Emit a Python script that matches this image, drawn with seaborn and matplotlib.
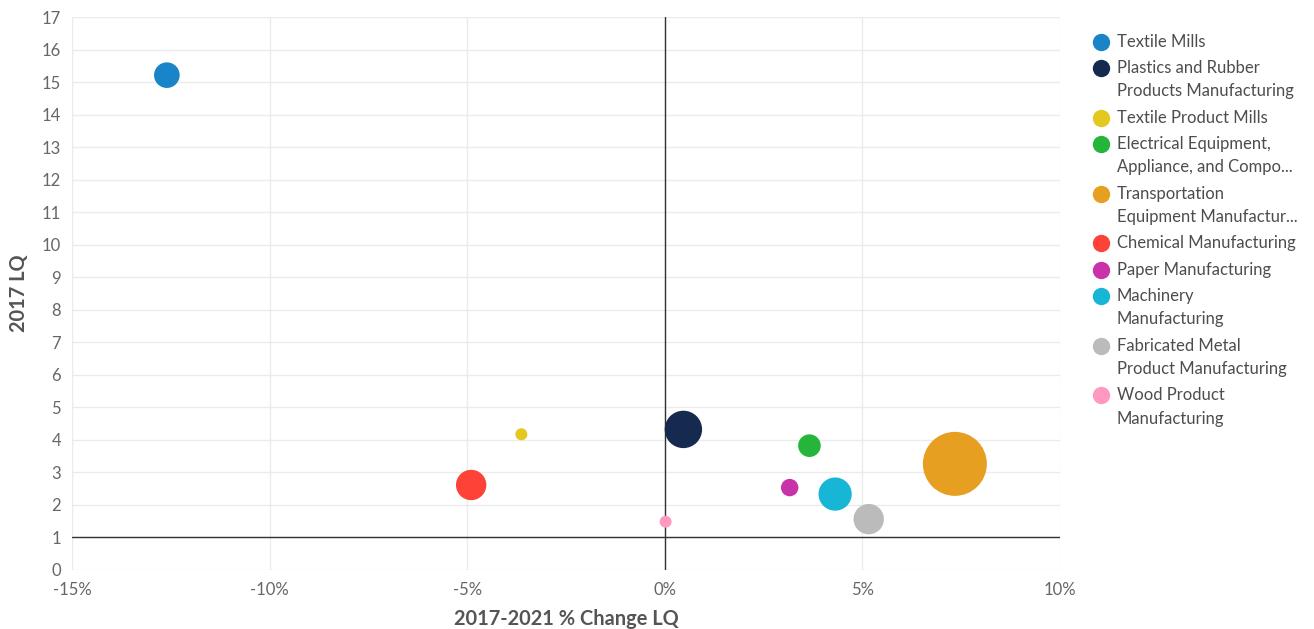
import matplotlib.pyplot as plt
import pandas as pd
import seaborn as sns
from matplotlib.lines import Line2D
from matplotlib.ticker import MultipleLocator, PercentFormatter

# Industry bubbles: % change in LQ 2017-2021 (x), 2017 LQ (y), bubble size (relative area)
industries = [
    "Textile Mills",
    "Plastics and Rubber\nProducts Manufacturing",
    "Textile Product Mills",
    "Electrical Equipment,\nAppliance, and Compo...",
    "Transportation\nEquipment Manufactur...",
    "Chemical Manufacturing",
    "Paper Manufacturing",
    "Machinery\nManufacturing",
    "Fabricated Metal\nProduct Manufacturing",
    "Wood Product\nManufacturing",
]
pct_change = [-12.6, 0.47, -3.63, 3.66, 7.34, -4.90, 3.16, 4.31, 5.16, 0.02]
lq_2017 = [15.22, 4.32, 4.17, 3.82, 3.26, 2.61, 2.53, 2.33, 1.56, 1.48]
bubble_size = [164, 350, 36, 128, 1024, 231, 76, 276, 231, 36]
colors = [
    "#1984c7", "#16294f", "#e3c81f", "#25b53a", "#e69f20",
    "#fd4338", "#c932a8", "#17b6d6", "#bbbbbb", "#ff99c2",
]

df = pd.DataFrame({
    "industry": industries,
    "pct": pct_change,
    "lq": lq_2017,
    "size": bubble_size,
})

sns.set_theme(style="white")
plt.rcParams["font.family"] = ["Lato", "DejaVu Sans"]
plt.rcParams["axes.unicode_minus"] = False

fig = plt.figure(figsize=(13.14, 6.29), dpi=100)
ax = fig.add_axes([0.0548, 0.0941, 0.7519, 0.8784])

# reference lines first so bubbles sit on top
ax.axvline(0, color="#333333", lw=1, zorder=1)
ax.axhline(1, color="#333333", lw=1, zorder=1)

smax = 2.0736 * max(bubble_size)
sns.scatterplot(
    data=df, x="pct", y="lq", hue="industry", palette=colors,
    size="size", sizes=(0, smax), size_norm=(0, max(bubble_size)),
    linewidth=0, alpha=1, legend=False, ax=ax, zorder=3,
)

ax.set_xlim(-15, 10)
ax.set_ylim(0, 17)
ax.xaxis.set_major_locator(MultipleLocator(5))
ax.yaxis.set_major_locator(MultipleLocator(1))
ax.xaxis.set_major_formatter(PercentFormatter(decimals=0))
ax.grid(True, color="#ebebeb", lw=1, zorder=0)
ax.set_axisbelow(True)
for s in ax.spines.values():
    s.set_visible(False)
ax.tick_params(axis="both", length=0, labelsize=12, colors="#666666")
ax.tick_params(axis="x", pad=9)
ax.tick_params(axis="y", pad=8)

ax.set_xlabel("2017-2021 % Change LQ", fontsize=14.4, fontweight="bold",
              color="#555555", labelpad=8)
ax.set_ylabel("2017 LQ", fontsize=14.4, fontweight="bold",
              color="#555555", labelpad=9)

# custom legend: marker aligned with the first line of each label
W, H = 1314, 629
y = 41.7
for name, c in zip(industries, colors):
    fig.add_artist(Line2D([1100.7 / W], [1 - y / H], marker="o", markersize=12.5,
                          color=c, markeredgewidth=0, transform=fig.transFigure))
    lines = name.split("\n")
    for j, line in enumerate(lines):
        fig.text(1117 / W, 1 - (y + j * 23.4) / H, line, fontsize=12,
                 color="#4d4d4d", va="center", ha="left")
    y += (len(lines) - 1) * 23.4 + 26.3

fig.savefig("out.png", dpi=100)
